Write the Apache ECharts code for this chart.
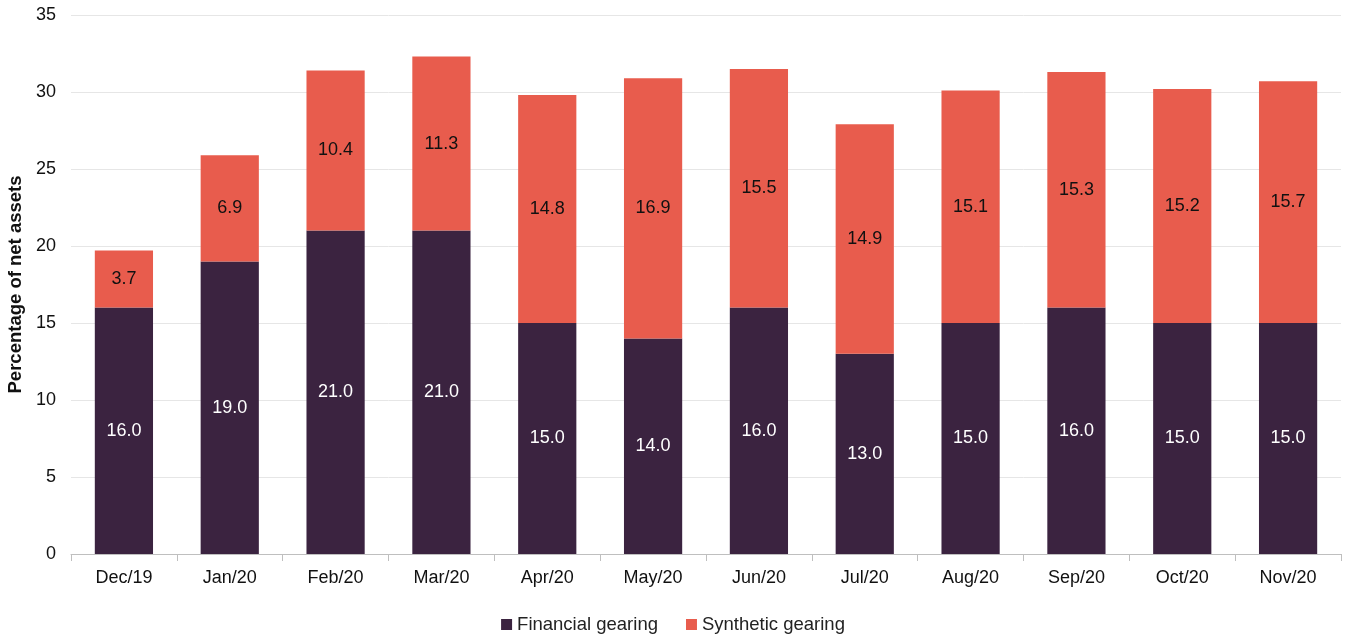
<!DOCTYPE html>
<html><head><meta charset="utf-8">
<script src="https://cdn.jsdelivr.net/npm/echarts@6/dist/echarts.min.js"></script>
<style>html,body{margin:0;padding:0;background:#fff}#c{width:1346px;height:634px}</style>
</head><body><div id="c"></div>
<script>
const categories = ['Dec/19','Jan/20','Feb/20','Mar/20','Apr/20','May/20','Jun/20','Jul/20','Aug/20','Sep/20','Oct/20','Nov/20'];
const financial = [16.0,19.0,21.0,21.0,15.0,14.0,16.0,13.0,15.0,16.0,15.0,15.0];
const synthetic = [3.7,6.9,10.4,11.3,14.8,16.9,15.5,14.9,15.1,15.3,15.2,15.7];
const yTicks = [0,5,10,15,20,25,30,35];
const font = 'Liberation Sans, Arial, sans-serif';
const chart = echarts.init(document.getElementById('c'));
chart.setOption({
  animation:false,
  textStyle:{fontFamily:font},
  grid:{left:71,right:5,top:15,bottom:80,containLabel:false,outerBoundsMode:'none'},
  legend:{top:610,left:'center',itemWidth:11,itemHeight:11,itemGap:28,icon:'rect',
    textStyle:{fontSize:18.5,color:'#222',fontFamily:font},
    data:['Financial gearing','Synthetic gearing']},
  xAxis:{type:'category',data:categories,
    axisLine:{lineStyle:{color:'#bfbfbf'}},
    axisTick:{show:true,alignWithLabel:false,length:7,lineStyle:{color:'#bfbfbf'}},
    axisLabel:{fontSize:18,color:'#111',margin:15,fontFamily:font}},
  yAxis:{type:'value',min:yTicks[0],max:yTicks[yTicks.length-1],interval:5,
    name:'Percentage of net assets',nameLocation:'middle',nameGap:45,
    nameTextStyle:{fontSize:18.5,fontWeight:'bold',color:'#111',fontFamily:font},
    axisLine:{show:false},axisTick:{show:false},
    axisLabel:{fontSize:18,color:'#111',margin:15,fontFamily:font},
    splitLine:{lineStyle:{color:'#e6e6e6'}}},
  series:[
    {name:'Financial gearing',type:'bar',stack:'g',data:financial,barWidth:'55%',
     itemStyle:{color:'#3b2340'},
     label:{show:true,position:'inside',formatter:p=>p.value.toFixed(1),color:'#fff',fontSize:18,fontFamily:font}},
    {name:'Synthetic gearing',type:'bar',stack:'g',data:synthetic,barWidth:'55%',
     itemStyle:{color:'#e85c4d'},
     label:{show:true,position:'inside',formatter:p=>p.value.toFixed(1),color:'#111',fontSize:18,fontFamily:font}}
  ]
});
</script></body></html>
